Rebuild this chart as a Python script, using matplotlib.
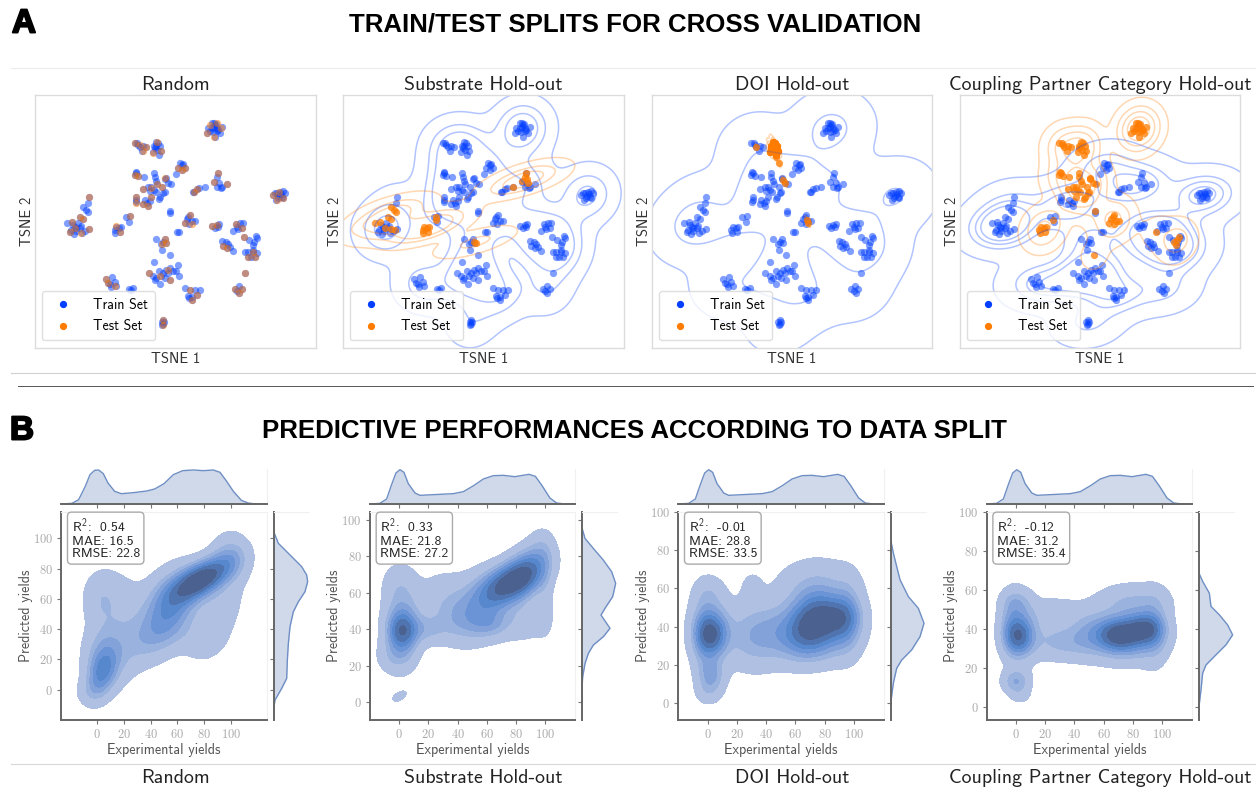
"""Train/test splits in TSNE space and predicted vs. experimental yield densities."""

import matplotlib
matplotlib.use("Agg")
import matplotlib.patheffects as pe
import matplotlib.pyplot as plt
import numpy as np
from matplotlib.colors import LinearSegmentedColormap
from matplotlib.lines import Line2D

W, H = 1256, 788
BLUE = "#023eff"
ORANGE = "#ff7c00"

plt.rcParams["font.family"] = ["cmss10", "DejaVu Sans"]
plt.rcParams["axes.unicode_minus"] = False
plt.rcParams["axes.formatter.use_mathtext"] = True
plt.rcParams["mathtext.fontset"] = "custom"
plt.rcParams["mathtext.rm"] = "cmss10"
plt.rcParams["mathtext.it"] = "cmss10"
plt.rcParams["mathtext.bf"] = "cmss10"

SPLIT_NAMES = ["Random", "Substrate Hold-out", "DOI Hold-out", "Coupling Partner Category Hold-out"]

# TSNE clusters
C_TOP = [(625, 205), (635, 190), (645, 195), (650, 205), (640, 215), (630, 212), (620, 220), (655, 210),
         (665, 200), (645, 230), (642, 188), (660, 218), (648, 192), (635, 205), (642, 200), (650, 214)]
C_UL_A = [(405, 250), (415, 255), (420, 262), (430, 258), (440, 262), (427, 272), (412, 250)]
C_UL_B = [(465, 265), (475, 250), (482, 257), (472, 270), (460, 275), (478, 285), (485, 272), (470, 245),
          (463, 258), (470, 258)]
C_UPPER = [(540, 310), (547, 315), (535, 325), (545, 330), (555, 325), (550, 312), (527, 343)]
C_MID_A = [(410, 338), (405, 345), (415, 348), (408, 335), (433, 351)]
C_MID_B = [(463, 340), (465, 352), (470, 362), (497, 358), (505, 368), (515, 372), (473, 372), (498, 355)]
C_MID_C = [(430, 388), (445, 380), (455, 382), (462, 390), (468, 395), (450, 392), (487, 382), (495, 397),
           (482, 412), (478, 418), (490, 400), (455, 410)]
C_MID_D = [(442, 430), (435, 420), (430, 432), (445, 437), (410, 420), (408, 425), (410, 412), (450, 422)]
C_RIGHT_A = [(653, 340), (650, 350), (642, 365), (658, 370), (665, 380), (650, 382), (662, 385)]
C_RIGHT_B = [(680, 373)]
C_LINK = [(580, 395), (590, 388), (598, 385), (615, 380), (583, 397)]
C_FAR = [(820, 405), (830, 400), (840, 395), (850, 392), (855, 398), (845, 410), (833, 415), (828, 420),
         (850, 415), (838, 408), (825, 398), (842, 402)]
C_LEFT_A = [(267, 412), (265, 428)]
C_LEFT_B = [(250, 440), (258, 450), (265, 455), (240, 470), (250, 477)]
C_LEFT_C = [(202, 490), (217, 487), (235, 490), (245, 497), (225, 500), (215, 510), (230, 512), (222, 522),
            (210, 515), (240, 505), (257, 512), (267, 508), (248, 518), (228, 505), (220, 495)]
C_NEAR = [(345, 510), (350, 500), (365, 500), (362, 515), (347, 520), (358, 503)]
C_NEAR_B = [(378, 470), (391, 468), (388, 487)]
C_SINGLE = [(512, 453), (512, 458)]
C_CORE = [(570, 465), (560, 478), (575, 482), (555, 490), (568, 492), (585, 484), (565, 470)]
C_RIGHT_C = [(637, 497), (650, 495), (655, 500), (645, 505), (658, 492)]
C_RIGHT_D = [(708, 493), (720, 490), (730, 490), (725, 503), (715, 507), (698, 514), (712, 500)]
C_DASH = [(530, 517), (537, 515)]
C_CENTER = [(470, 536), (497, 537), (490, 547), (500, 550), (485, 552), (487, 570), (462, 607)]
C_LONE = [(510, 586)]
C_RIGHT_E = [(667, 542), (677, 547), (685, 552), (670, 558), (680, 565), (690, 560), (700, 572)]
C_RIGHT_F = [(747, 540), (762, 547), (768, 527), (772, 535), (733, 532)]
C_RIGHT_G = [(758, 555), (745, 577), (735, 577), (752, 590), (765, 590), (772, 578), (758, 575), (745, 590),
             (760, 570)]
C_LOW = [(447, 640), (460, 650), (470, 655), (478, 633), (490, 640), (500, 630), (512, 625), (505, 640),
         (510, 660), (495, 655), (480, 672), (465, 660), (527, 635), (537, 648), (533, 615), (520, 635),
         (485, 650)]
C_LOW_L = [(320, 658), (337, 652), (345, 668), (325, 670), (335, 682), (350, 680), (332, 672)]
C_LOW_M = [(387, 687), (400, 684), (393, 690)]
C_LOW_R = [(555, 686), (570, 690), (585, 692), (600, 691), (565, 708), (575, 712), (590, 705), (575, 722),
           (568, 715)]
C_LOW_FAR = [(705, 688), (717, 680), (725, 688), (718, 700), (712, 693), (734, 641)]
C_BOTTOM = [(490, 782), (490, 793), (486, 788), (494, 786), (488, 795)]

ALL_CLUSTERS = (C_TOP + C_UL_A + C_UL_B + C_UPPER + C_MID_A + C_MID_B + C_MID_C + C_MID_D + C_RIGHT_A
                + C_RIGHT_B + C_LINK + C_FAR + C_LEFT_A + C_LEFT_B + C_LEFT_C + C_NEAR + C_NEAR_B + C_SINGLE
                + C_CORE + C_RIGHT_C + C_RIGHT_D + C_DASH + C_CENTER + C_LONE + C_RIGHT_E + C_RIGHT_F
                + C_RIGHT_G + C_LOW + C_LOW_L + C_LOW_M + C_LOW_R + C_LOW_FAR + C_BOTTOM)

RANDOM_TEST = [(650, 188), (663, 205), (643, 232), (620, 220), (630, 195), (440, 262), (420, 255), (430, 272),
               (405, 250), (460, 278), (472, 245), (485, 272), (555, 325), (545, 330), (535, 325), (405, 345),
               (415, 348), (495, 355), (473, 372), (455, 385), (430, 388), (487, 382), (455, 410), (410, 412),
               (408, 428), (430, 432), (445, 437), (590, 388), (583, 397), (680, 373), (653, 340), (642, 365),
               (830, 420), (820, 405), (850, 415), (838, 395), (267, 412), (250, 477), (240, 470), (217, 487),
               (210, 515), (245, 518), (267, 508), (225, 505), (362, 516), (350, 497), (391, 468), (570, 465),
               (555, 490), (575, 492), (650, 495), (637, 497), (708, 493), (725, 503), (733, 532), (497, 537),
               (487, 552), (500, 550), (447, 640), (505, 630), (510, 660), (480, 650), (670, 558), (680, 565),
               (745, 590), (765, 590), (758, 575), (320, 658), (345, 680), (325, 670), (570, 690), (590, 705),
               (575, 722), (705, 688), (717, 700), (725, 688), (734, 641), (490, 782), (490, 795)]
SUBSTRATE_TEST = (C_LEFT_B + C_NEAR + [(202, 490), (217, 487), (231, 505), (251, 507), (261, 510), (386, 470),
                                       (385, 480), (654, 340), (641, 362), (661, 370), (650, 350), (656, 358),
                                       (614, 380), (506, 548), (498, 545)])
DOI_TEST = C_UL_B * 3 + [(506, 368), (500, 360), (571, 480), (575, 490), (420, 260), (480, 290), (488, 310)]
COUPLING_TEST = (C_TOP + C_UL_A + C_UL_B + C_MID_A + C_MID_B + C_MID_C + C_NEAR + C_CORE
                 + C_LONE + [(385, 480), (512, 452), (695, 515), (750, 545), (765, 532), (755, 555), (760, 540)])
SPLIT_TESTS = [RANDOM_TEST, SUBSTRATE_TEST, DOI_TEST, COUPLING_TEST]

# iso-proportions and KDE bandwidth factors for the contour panels (train, test)
TRAIN_PROPS = [None, [0.03, 0.2, 0.45], [0.015, 0.4], [0.015, 0.15, 0.4, 0.65]]
TEST_PROPS = [None, [0.03, 0.25, 0.5], [0.1, 0.35, 0.6, 0.8], [0.03, 0.2, 0.45, 0.7]]
TRAIN_BW = [None, 0.33, 0.36, 0.33]
TEST_BW = [None, 0.38, 0.22, 0.3]

# density blobs: x, y, sd x, sd y, correlation, weight
RANDOM_BLOBS = [(78, 73, 14, 9, 0.6, 0.95), (55, 55, 13, 15, 0.3, 0.45), (3, 10, 7, 10, 0.3, 0.38),
                (6, 22, 10, 13, 0.0, 0.28), (3, 60, 9, 12, 0.0, 0.15), (20, 45, 12, 20, 0.0, 0.12),
                (40, 35, 14, 12, 0.4, 0.18), (90, 50, 12, 18, 0.5, 0.15), (100, 88, 9, 10, 0.0, 0.2),
                (75, 33, 12, 7, 0.0, 0.07), (-6, -2, 7, 6, 0.0, 0.08)]
SUBSTRATE_BLOBS = [(77, 66, 13, 8, 0.5, 0.95), (88, 72, 9, 9, 0.3, 0.4), (60, 58, 13, 10, 0.2, 0.3),
                   (2, 39, 6, 6.5, 0.0, 0.55), (2, 42, 8, 13, 0.0, 0.4), (18, 40, 9, 5, 0.0, 0.2),
                   (45, 45, 14, 9, 0.0, 0.28), (62, 43, 9, 5, 0.0, 0.22), (85, 45, 12, 8, 0.0, 0.14),
                   (0, 65, 8, 8, 0.0, 0.12), (30, 58, 12, 10, 0.0, 0.12), (-3, 25, 8, 6, 0.0, 0.15),
                   (0, 3, 5, 3, 0.5, 0.09), (98, 85, 6, 7, 0.0, 0.12), (100, 60, 4, 15, 0.0, 0.1)]
DOI_BLOBS = [(70, 42, 10, 10, 0.2, 0.72), (88, 45, 10, 7, 0.0, 0.68), (78, 35, 15, 9, 0.0, 0.42),
             (2, 36, 6.5, 6.5, 0.0, 0.62), (2, 38, 9, 12, 0.0, 0.4), (2, 14, 6, 6, 0.0, 0.33),
             (30, 35, 12, 11, 0.0, 0.28), (30, 60, 5, 6, 0.0, 0.1), (0, 58, 7, 6, 0.0, 0.12),
             (75, 60, 18, 10, 0.0, 0.22), (50, 37, 12, 10, 0.0, 0.28), (96, 45, 6, 13, 0.0, 0.2),
             (0, 5, 6, 4, 0.0, 0.1), (-3, 35, 5, 12, 0.0, 0.15)]
COUPLING_BLOBS = [(70, 37, 9, 5, 0.0, 0.62), (88, 40, 8, 5, 0.0, 0.62), (76, 36, 15, 8, 0.0, 0.48),
                  (2, 36, 6, 5.5, 0.0, 0.48), (2, 40, 8, 11, 0.0, 0.35), (0, 13, 6, 4, 0.0, 0.3),
                  (30, 33, 14, 6, 0.0, 0.22), (80, 54, 16, 6, 0.0, 0.2), (0, 54, 7, 4, 0.0, 0.12),
                  (3, 6, 5, 3, 0.0, 0.09), (50, 38, 10, 8, 0.0, 0.22), (30, 50, 10, 4, 0.0, 0.09),
                  (20, 46, 10, 6, 0.0, 0.08), (95, 40, 6, 12, 0.0, 0.18), (-3, 42, 5, 10, 0.0, 0.15)]
SPLIT_BLOBS = [RANDOM_BLOBS, SUBSTRATE_BLOBS, DOI_BLOBS, COUPLING_BLOBS]
FILL_LEVELS = [0.05, 0.11, 0.18, 0.27, 0.37, 0.48, 0.6, 0.75, 1.01]
FILL_COLORS = ["#afc0e2", "#9ab2de", "#84a2da", "#6b94d6", "#5787cc", "#4f74b0", "#4b6190", "#48557f"]

# marginal curves of experimental yields (same curve for the three hold-outs)
RANDOM_EXP_X = [-27, -19, -14, -9, -5.5, -2, 1, 4.5, 8, 13, 18, 27, 37, 43, 50, 57, 64, 72, 79.5, 87, 92, 97,
                102, 108, 113, 119, 127]
RANDOM_EXP_D = [0, 2, 13, 53, 88, 101, 102, 91, 63, 38, 31, 34, 39, 45, 61, 88, 100, 102, 100, 102, 95, 68, 38,
                11, 3, 0, 0]
HOLDOUT_EXP_X = [-20, -13.3, -8.7, -5.3, -2.3, 0.5, 3.2, 6.2, 10.8, 14.2, 23.3, 37, 44, 51, 57.7, 64.5, 71.4,
                 79.4, 89, 93.4, 98, 103.4, 108, 113.8, 120.6]
HOLDOUT_EXP_D = [0, 2, 15, 58, 93, 103, 95, 61, 33, 26, 28, 31, 37, 55, 75, 85, 86, 82, 89, 83, 55, 18, 3, 0, 0]
EXP_X = [RANDOM_EXP_X, HOLDOUT_EXP_X, HOLDOUT_EXP_X, HOLDOUT_EXP_X]
EXP_D = [RANDOM_EXP_D, HOLDOUT_EXP_D, HOLDOUT_EXP_D, HOLDOUT_EXP_D]

# marginal curves of predicted yields
PRED_Y = [[104.4, 96.7, 89, 81.3, 75.8, 71.4, 64.8, 58.1, 51.5, 41.6, 30.6, 19.6, 7.5, 0.9, -6.8, -12.3],
          [96.3, 89.9, 84.4, 78, 71.6, 65.2, 57.9, 51.5, 47.8, 43.2, 40.5, 35.9, 31.3, 26.7, 21.2, 13.9, 4.8, -0.7],
          [85.4, 78.4, 71.4, 64.5, 55.7, 49.6, 41.8, 34.8, 27.9, 22.6, 18.3, 10.5, 0],
          [68.5, 64.3, 58.3, 51.5, 47.2, 42, 36.9, 31.8, 26.7, 21.5, 17.3, 8.7, 0.2]]
PRED_D = [[0, 14, 49, 84, 99, 102, 94, 74, 59, 49, 44, 41, 39, 24, 4, 0],
          [0, 10, 35, 65, 90, 102, 93, 70, 58, 75, 85, 65, 35, 20, 10, 3, 0, 0],
          [0, 8, 18, 28, 53, 83, 100, 88, 63, 33, 18, 8, 0],
          [0, 11, 31, 36, 61, 86, 101, 81, 51, 21, 11, 6, 0]]

R2 = ["0.54", "0.33", "-0.01", "-0.12"]
MAE = ["16.5", "21.8", "28.8", "31.2"]
RMSE = ["22.8", "27.2", "33.5", "35.4"]
YIELD_TICKS = [0, 20, 40, 60, 80, 100]

# pixel layout
TSNE_LEFT = [35, 343, 652, 960]
TSNE_RIGHT = [316, 624, 932, 1240]
JOINT_LEFT = [61.3, 370, 678.3, 986.7]
JOINT_RIGHT = [266.7, 575, 883.7, 1192]
MARG_LEFT = [273.7, 581.7, 890.7, 1199]
XLIMS = [(-27, 127), (-20.1, 120.6), (-20.4, 120.6), (-20.1, 120.5)]
YLIMS = [(-20, 117.6), (-9.9, 104.6), (-8.7, 100), (-6.7, 100)]


def px_axes(fig, left, top, right, bottom):
    return fig.add_axes([left / W, 1 - bottom / H, (right - left) / W, (bottom - top) / H])


def kde(points, xx, yy, factor):
    pts = np.array(points, dtype=float)
    inv = np.linalg.inv(np.cov(pts.T) * factor ** 2)
    dx = xx[..., None] - pts[:, 0]
    dy = yy[..., None] - pts[:, 1]
    q = inv[0, 0] * dx ** 2 + 2 * inv[0, 1] * dx * dy + inv[1, 1] * dy ** 2
    return np.exp(-q / 2).sum(axis=-1)


def iso_levels(z, props):
    vals = np.sort(z.ravel())
    cum = np.cumsum(vals) / vals.sum()
    return sorted(vals[np.searchsorted(cum, p)] for p in props)


def blob_density(blobs, xx, yy):
    z = np.zeros_like(xx)
    for mx, my, sx, sy, rho, w in blobs:
        u = (xx - mx) / sx
        v = (yy - my) / sy
        z += w * np.exp(-(u ** 2 - 2 * rho * u * v + v ** 2) / (2 * (1 - rho ** 2)))
    return z / z.max()


def draw_tsne(fig, i):
    ax = px_axes(fig, TSNE_LEFT[i], 94.5, TSNE_RIGHT[i], 348)
    test = SPLIT_TESTS[i]
    if i == 0:
        train = ALL_CLUSTERS
    else:
        train = [p for p in ALL_CLUSTERS if p not in test]
        xx, yy = np.meshgrid(np.linspace(0, 1100, 220), np.linspace(0, 1000, 200))
        ztrain = kde(train, xx, yy, TRAIN_BW[i])
        ztest = kde(test, xx, yy, TEST_BW[i])
        ax.contour(xx, yy, ztrain, levels=iso_levels(ztrain, TRAIN_PROPS[i]), colors=BLUE, alpha=0.3, linewidths=1.1)
        ax.contour(xx, yy, ztest, levels=iso_levels(ztest, TEST_PROPS[i]), colors=ORANGE, alpha=0.3, linewidths=1.1)
    ax.scatter(*zip(*train), s=27, color=BLUE, alpha=0.5, linewidths=0)
    ax.scatter(*zip(*test), s=27, color=ORANGE, alpha=0.5 if i == 0 else 0.75, linewidths=0)
    ax.set_xlim(106, 948)
    ax.set_ylim(865, 103)
    ax.set_xticks([])
    ax.set_yticks([])
    for sp in ax.spines.values():
        sp.set_color("#dcdcdc")
        sp.set_linewidth(1)
    ax.set_xlabel("TSNE 1", fontsize=10.5, color="#333333", labelpad=3)
    ax.set_ylabel("TSNE 2", fontsize=10.5, color="#333333", labelpad=1)
    ax.set_title(SPLIT_NAMES[i], fontsize=14.3, color="#222222", pad=3)
    handles = [Line2D([], [], ls="", marker="o", color=BLUE, ms=4.2),
               Line2D([], [], ls="", marker="o", color=ORANGE, ms=4.2)]
    ax.legend(handles, ["Train Set", "Test Set"], loc="lower left", bbox_to_anchor=(0.026, 0.03), borderaxespad=0,
              fontsize=10, frameon=True, framealpha=0.8, edgecolor="#d8d8d8", handletextpad=1.15,
              labelspacing=0.55, borderpad=0.5)


def style_joint_spine(sp, dark):
    sp.set_color("#666666" if dark else "#f0f0f0")
    sp.set_linewidth(1.4 if dark else 0.8)


def draw_joint(fig, i):
    ax = px_axes(fig, JOINT_LEFT[i], 511.7, JOINT_RIGHT[i], 720)
    xx, yy = np.meshgrid(np.linspace(-40, 140, 300), np.linspace(-40, 130, 300))
    cmap = LinearSegmentedColormap.from_list("dens", FILL_COLORS, N=len(FILL_COLORS))
    ax.contourf(xx, yy, blob_density(SPLIT_BLOBS[i], xx, yy), levels=FILL_LEVELS, cmap=cmap)
    ax.set_xlim(*XLIMS[i])
    ax.set_ylim(*YLIMS[i])
    ax.set_xticks(YIELD_TICKS)
    ax.set_yticks(YIELD_TICKS)
    ax.tick_params(length=3, width=0.8, color="#777777", labelcolor="#aaaaaa", labelsize=9, pad=3)
    for lab in ax.get_xticklabels() + ax.get_yticklabels():
        lab.set_family("cmr10")
    for name, sp in ax.spines.items():
        style_joint_spine(sp, name in ("left", "bottom"))
    ax.set_xlabel("Experimental yields", fontsize=10.2, color="#555555", labelpad=1)
    ax.set_ylabel("Predicted yields", fontsize=10.2, color="#555555", labelpad=0)
    ax.text(0.05, 0.975, f"R$^2$:  {R2[i]}\nMAE: {MAE[i]}\nRMSE: {RMSE[i]}", transform=ax.transAxes, va="top",
            ha="left", fontsize=9.8, color="#222222", linespacing=1.0,
            bbox=dict(boxstyle="round,pad=0.3", fc="white", ec="#aaaaaa", lw=1))

    top = px_axes(fig, JOINT_LEFT[i], 469, JOINT_RIGHT[i], 504)
    top.fill_between(EXP_X[i], EXP_D[i], color="#cfd9ea", lw=0)
    top.plot(EXP_X[i], EXP_D[i], color="#6f8fc4", lw=1)
    top.set_xlim(*XLIMS[i])
    top.set_ylim(0, 105)
    top.set_xticks(YIELD_TICKS)
    top.set_yticks([])
    top.tick_params(length=3, width=0.8, color="#777777", labelbottom=False)
    for name, sp in top.spines.items():
        style_joint_spine(sp, name == "bottom")
    top.spines["left"].set_visible(False)
    top.spines["top"].set_visible(False)

    right = px_axes(fig, MARG_LEFT[i], 511.7, MARG_LEFT[i] + 35.3, 720)
    right.fill_betweenx(PRED_Y[i], PRED_D[i], color="#cfd9ea", lw=0)
    right.plot(PRED_D[i], PRED_Y[i], color="#6f8fc4", lw=1)
    right.set_ylim(*YLIMS[i])
    right.set_xlim(0, 106)
    right.set_yticks(YIELD_TICKS)
    right.set_xticks([])
    right.tick_params(length=3, width=0.8, color="#777777", labelleft=False)
    for name, sp in right.spines.items():
        style_joint_spine(sp, name == "left")
    right.spines["right"].set_visible(False)
    right.spines["bottom"].set_visible(False)

    mid = (TSNE_LEFT[i] + TSNE_RIGHT[i]) / 2
    fig.text(mid / W, 1 - 778 / H, SPLIT_NAMES[i], fontsize=14.3, color="#222222", ha="center", va="center")


def rule(fig, x0, x1, y, color, lw=0.8):
    fig.add_artist(Line2D([x0 / W, x1 / W], [1 - y / H, 1 - y / H], color=color, lw=lw))


def main():
    fig = plt.figure(figsize=(W / 100, H / 100), dpi=100, facecolor="white")
    for i in range(4):
        draw_tsne(fig, i)
        draw_joint(fig, i)

    rule(fig, 11, 1256, 67.5, "#ececec")
    rule(fig, 11, 1256, 372.5, "#d0d0d0")
    rule(fig, 18, 1253, 386, "#555555", 0.7)
    rule(fig, 11, 1256, 763.5, "#d8d8d8")

    bold = dict(family=["Liberation Sans"], weight="bold", color="black", ha="center", va="center")
    fig.text(635 / W, 1 - 24 / H, "TRAIN/TEST SPLITS FOR CROSS VALIDATION", fontsize=18.6, **bold)
    fig.text(634 / W, 1 - 431 / H, "PREDICTIVE PERFORMANCES ACCORDING TO DATA SPLIT", fontsize=18.6, **bold)
    heavy = [pe.withStroke(linewidth=1.4, foreground="black")]
    fig.text(24 / W, 1 - 24 / H, "A", fontsize=24, path_effects=heavy, **bold)
    fig.text(22 / W, 1 - 431 / H, "B", fontsize=24, path_effects=heavy, **bold)

    fig.savefig("out.png", dpi=100)


if __name__ == "__main__":
    main()
